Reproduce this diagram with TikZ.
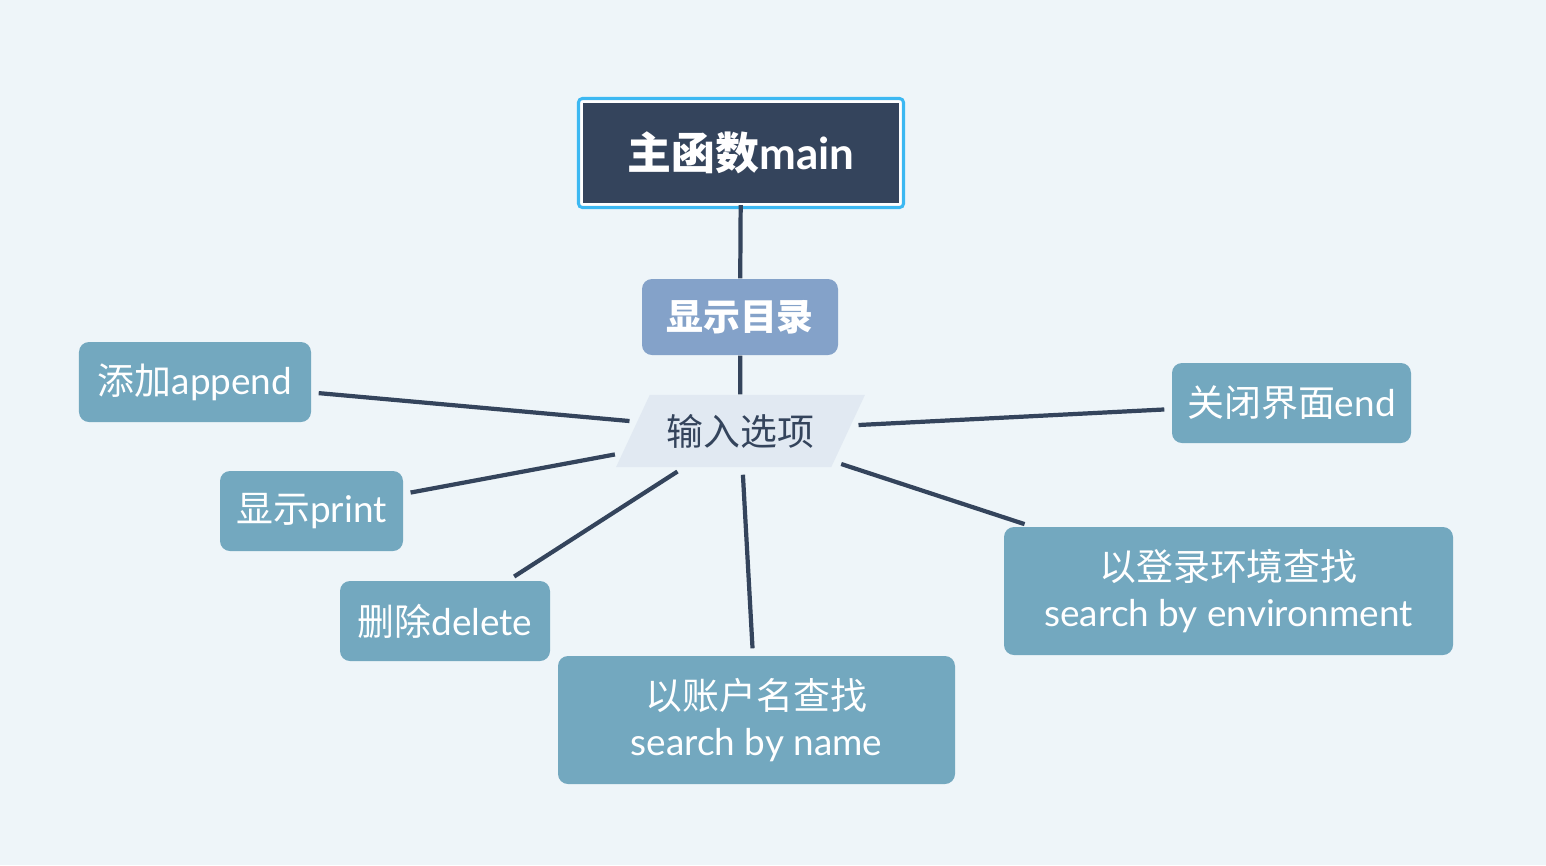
\documentclass[tikz,border=0pt]{standalone}
\usepackage{fontspec}
\setmainfont{Lato}
\newfontfamily\cjk{Noto Sans CJK SC}
\usetikzlibrary{shapes.geometric}

\definecolor{bg}{HTML}{EEF5F9}
\definecolor{ink}{HTML}{34445C}
\definecolor{ring}{HTML}{3CB8F2}
\definecolor{menuc}{HTML}{84A2C9}
\definecolor{optc}{HTML}{E1E9F2}
\definecolor{leafc}{HTML}{73A8BF}

\newcommand{\zh}[1]{{\cjk #1}}

\begin{document}
\begin{tikzpicture}[
  leaf/.style={fill=leafc, rounded corners=0.1cm, text=white, minimum height=0.8cm,
    inner sep=0pt, align=center, font=\fontsize{10.5}{13}\selectfont},
  link/.style={draw=ink, line width=1.2pt, shorten <=0.07cm, shorten >=0.07cm}
] % menu du programme principal

\fill[bg] (0,0) rectangle (15.46,-8.65);
\useasboundingbox (0,0) rectangle (15.46,-8.65);

\node[fill=ink, draw=white, line width=0.6pt, minimum width=3.18cm, minimum height=1.02cm,
  text=white, font=\bfseries\fontsize{12.5}{15}\selectfont] (main) at (7.41,-1.53) {\zh{主函数}main};
\draw[ring, line width=0.03cm, rounded corners=0.04cm]
  ([shift={(-0.025,0.025)}]main.north west) rectangle ([shift={(0.025,-0.025)}]main.south east);

\node[fill=menuc, rounded corners=0.1cm, minimum width=1.96cm, minimum height=0.76cm, inner sep=0pt,
  text=white, font=\bfseries\fontsize{10.5}{13}\selectfont] (menu) at (7.40,-3.17) {\zh{显示目录}};

\node[trapezium, trapezium left angle=65, trapezium right angle=115,
  fill=optc, inner xsep=0.17cm, inner ysep=0.19cm,
  text=ink, font=\fontsize{10.5}{13}\selectfont] (opt) at (7.405,-4.31) {\zh{输入选项}};

\draw[ink, line width=1.2pt] (main) -- (menu);
\draw[ink, line width=1.2pt] (menu) -- (opt);

% choix du menu
\node[leaf, minimum width=2.32cm] (add) at (1.95,-3.82) {\zh{添加}append};
\node[leaf, minimum width=1.83cm] (prt) at (3.115,-5.11) {\zh{显示}print};
\node[leaf, minimum width=2.10cm] (del) at (4.45,-6.21) {\zh{删除}delete};
\node[leaf, minimum width=3.97cm, minimum height=1.28cm] (byname) at (7.565,-7.20)
  {\zh{以账户名查找}\\search by name};
\node[leaf, minimum width=4.49cm, minimum height=1.28cm] (byenv) at (12.285,-5.91)
  {\zh{以登录环境查找}\\search by environment};
\node[leaf, minimum width=2.39cm] (quit) at (12.915,-4.03) {\zh{关闭界面}end};

\foreach \n in {add,prt,del,byname,byenv,quit}
{
	\draw[link] (opt) -- (\n);
}

\end{tikzpicture}
\end{document}
